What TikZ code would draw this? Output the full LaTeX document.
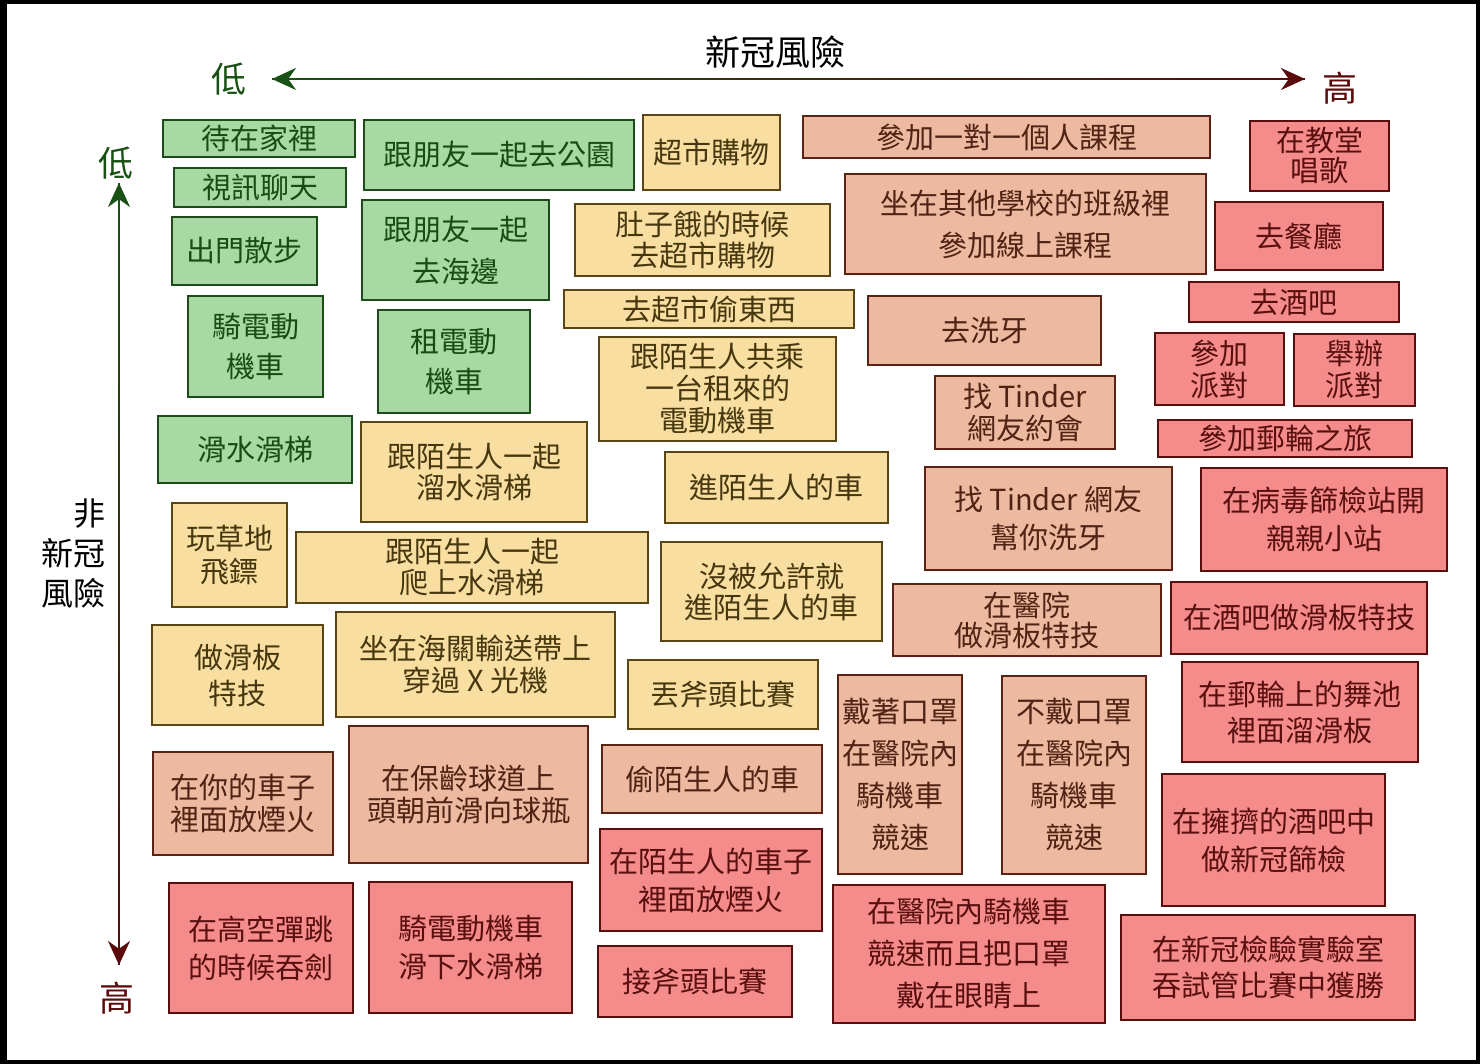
\documentclass[tikz,border=0pt]{standalone}
\usepackage{fontspec}
\newfontfamily\cjk{Noto Sans CJK TC}
\usetikzlibrary{arrows.meta,calc}
\definecolor{gfill}{RGB}{168,216,164}
\definecolor{gline}{RGB}{30,75,25}
\definecolor{gtext}{RGB}{25,75,20}
\definecolor{yfill}{RGB}{248,222,160}
\definecolor{yline}{RGB}{90,70,20}
\definecolor{ytext}{RGB}{70,55,15}
\definecolor{pfill}{RGB}{237,185,160}
\definecolor{pline}{RGB}{90,35,20}
\definecolor{ptext}{RGB}{80,35,20}
\definecolor{rfill}{RGB}{244,140,140}
\definecolor{rline}{RGB}{90,15,15}
\definecolor{rtext}{RGB}{90,15,15}
\definecolor{axg}{RGB}{25,80,20}
\definecolor{axr}{RGB}{90,10,10}
\tikzset{
  card/.style={draw, line width=2.2pt, inner sep=0pt, align=center, font=\cjk\fontsize{29}{33}\selectfont},
  gbox/.style={card, fill=gfill, draw=gline, text=gtext},
  ybox/.style={card, fill=yfill, draw=yline, text=ytext},
  pbox/.style={card, fill=pfill, draw=pline, text=ptext},
  rbox/.style={card, fill=rfill, draw=rline, text=rtext},
  lsp/.style={font=\cjk\fontsize{29}{#1}\selectfont},
  axlabel/.style={font=\cjk\fontsize{35}{40}\selectfont, inner sep=0pt},
}
\newcommand\mybox[7]{%
 \pgfmathsetmacro\cx{(#3+#5)/2}\pgfmathsetmacro\cy{(#4+#6)/2}%
 \pgfmathsetmacro\bw{#5-#3}\pgfmathsetmacro\bh{#6-#4}%
 \node[#1,minimum width=\bw pt,minimum height=\bh pt] (#2) at (\cx,\cy) {#7};}
\begin{document}
\begin{tikzpicture}[x=1pt,y=-1pt]
\useasboundingbox (0,0) rectangle (1480,1064);
\fill[white] (0,0) rectangle (1480,1064);
\draw[line width=4pt] (2,2) rectangle (1478,1062);
\fill[black] (0,0) rectangle (7,1064);

% axes
\coordinate (hL) at (272,79);
\coordinate (hR) at (1305,79);
\coordinate (vT) at (119,183);
\coordinate (vB) at (119,965);
\foreach \i in {0,...,39}{
  \pgfmathsetmacro\p{100-\i*2.5}
  \draw[line width=2.4pt, color=axg!\p!axr] ($(hL)!{\i/40}!(hR)$) -- ($(hL)!{(\i+1)/40}!(hR)$);
  \draw[line width=2.4pt, color=axg!\p!axr] ($(vT)!{\i/40}!(vB)$) -- ($(vT)!{(\i+1)/40}!(vB)$);
}
\draw[axg, line width=2.4pt, -{Stealth[length=24pt,width=22pt]}] ($(hL)+(25,0)$) -- (hL);
\draw[axr, line width=2.4pt, -{Stealth[length=24pt,width=22pt]}] ($(hR)+(-25,0)$) -- (hR);
\draw[axg, line width=2.4pt, -{Stealth[length=24pt,width=22pt]}] ($(vT)+(0,25)$) -- (vT);
\draw[axr, line width=2.4pt, -{Stealth[length=24pt,width=22pt]}] ($(vB)+(0,-25)$) -- (vB);

\node[axlabel] (title) at (775,52) {新冠風險};
\node[axlabel, text=axg] (hlow) at (229,79) {低};
\node[axlabel, text=axr] (hhigh) at (1340,88) {高};
\node[axlabel, text=axg] (vlow) at (116,163) {低};
\node[axlabel, text=axr] (vhigh) at (117,998) {高};
\node[axlabel, align=right, anchor=east, font=\cjk\fontsize{32}{40}\selectfont] (nonc) at (106,553) {非\\新冠\\風險};

% green
\mybox{gbox}{g1}{163}{120}{355}{157}{待在家裡}
\mybox{gbox}{g2}{174}{168}{346}{207}{視訊聊天}
\mybox{gbox}{g3}{172}{217}{317}{285}{出門散步}
\mybox{gbox,lsp=40}{g4}{188}{296}{323}{397}{騎電動\\機車}
\mybox{gbox}{g5}{158}{416}{352}{483}{滑水滑梯}
\mybox{gbox}{g6}{364}{120}{634}{190}{跟朋友一起去公園}
\mybox{gbox,lsp=42}{g7}{362}{200}{549}{300}{跟朋友一起\\去海邊}
\mybox{gbox,lsp=40}{g8}{378}{310}{530}{413}{租電動\\機車}

% yellow
\mybox{ybox}{y1}{643}{115}{780}{190}{超市購物}
\mybox{ybox,lsp=31}{y2}{575}{204}{830}{276}{肚子餓的時候\\去超市購物}
\mybox{ybox}{y3}{564}{290}{854}{328}{去超市偷東西}
\mybox{ybox,lsp=32}{y4}{599}{337}{836}{441}{跟陌生人共乘\\一台租來的\\電動機車}
\mybox{ybox,lsp=31}{y5}{361}{422}{587}{522}{跟陌生人一起\\溜水滑梯}
\mybox{ybox,lsp=33}{y6}{665}{452}{888}{523}{進陌生人的車}
\mybox{ybox,lsp=33}{y7}{172}{503}{287}{607}{玩草地\\飛鏢}
\mybox{ybox,lsp=31}{y8}{296}{532}{648}{603}{跟陌生人一起\\爬上水滑梯}
\mybox{ybox,lsp=31}{y9}{661}{542}{882}{641}{沒被允許就\\進陌生人的車}
\mybox{ybox,lsp=36}{y10}{152}{625}{323}{725}{做滑板\\特技}
\mybox{ybox,lsp=32}{y11}{336}{612}{615}{717}{坐在海關輸送帶上\\穿過 X 光機}
\mybox{ybox}{y12}{628}{660}{818}{729}{丟斧頭比賽}

% peach
\mybox{pbox}{p1}{803}{116}{1210}{158}{參加一對一個人課程}
\mybox{pbox,lsp=42}{p2}{845}{174}{1206}{274}{坐在其他學校的班級裡\\參加線上課程}
\mybox{pbox}{p3}{868}{296}{1101}{365}{去洗牙}
\mybox{pbox,lsp=32}{p4}{935}{376}{1115}{449}{找 Tinder\\網友約會}
\mybox{pbox,lsp=38}{p5}{925}{467}{1172}{570}{找 Tinder 網友\\幫你洗牙}
\mybox{pbox,lsp=30}{p6}{893}{584}{1161}{656}{在醫院\\做滑板特技}
\mybox{pbox,lsp=42}{p7}{838}{675}{962}{874}{戴著口罩\\在醫院內\\騎機車\\競速}
\mybox{pbox,lsp=42}{p8}{1002}{676}{1146}{874}{不戴口罩\\在醫院內\\騎機車\\競速}
\mybox{pbox}{p9}{602}{745}{822}{813}{偷陌生人的車}
\mybox{pbox,lsp=32}{p10}{153}{752}{333}{855}{在你的車子\\裡面放煙火}
\mybox{pbox,lsp=32}{p11}{349}{726}{588}{863}{在保齡球道上\\頭朝前滑向球瓶}

% red
\mybox{rbox,lsp=30}{r1}{1250}{121}{1389}{191}{在教堂\\唱歌}
\mybox{rbox}{r2}{1215}{202}{1383}{270}{去餐廳}
\mybox{rbox}{r3}{1189}{282}{1399}{322}{去酒吧}
\mybox{rbox,lsp=32}{r4}{1155}{333}{1284}{405}{參加\\派對}
\mybox{rbox,lsp=32}{r5}{1294}{334}{1415}{406}{舉辦\\派對}
\mybox{rbox}{r6}{1158}{420}{1412}{457}{參加郵輪之旅}
\mybox{rbox,lsp=38}{r7}{1201}{468}{1447}{571}{在病毒篩檢站開\\親親小站}
\mybox{rbox}{r8}{1171}{582}{1427}{654}{在酒吧做滑板特技}
\mybox{rbox,lsp=36}{r9}{1182}{662}{1418}{762}{在郵輪上的舞池\\裡面溜滑板}
\mybox{rbox,lsp=38}{r10}{1162}{774}{1385}{906}{在擁擠的酒吧中\\做新冠篩檢}
\mybox{rbox,lsp=36}{r11}{1121}{915}{1415}{1020}{在新冠檢驗實驗室\\吞試管比賽中獲勝}
\mybox{rbox,lsp=42}{r12}{833}{885}{1105}{1023}{在醫院內騎機車\\競速而且把口罩\\戴在眼睛上}
\mybox{rbox,lsp=38}{r13}{600}{829}{822}{931}{在陌生人的車子\\裡面放煙火}
\mybox{rbox}{r14}{598}{946}{792}{1017}{接斧頭比賽}
\mybox{rbox,lsp=38}{r15}{169}{883}{353}{1013}{在高空彈跳\\的時候吞劍}
\mybox{rbox,lsp=38}{r16}{369}{882}{572}{1013}{騎電動機車\\滑下水滑梯}
\end{tikzpicture}
\end{document}
